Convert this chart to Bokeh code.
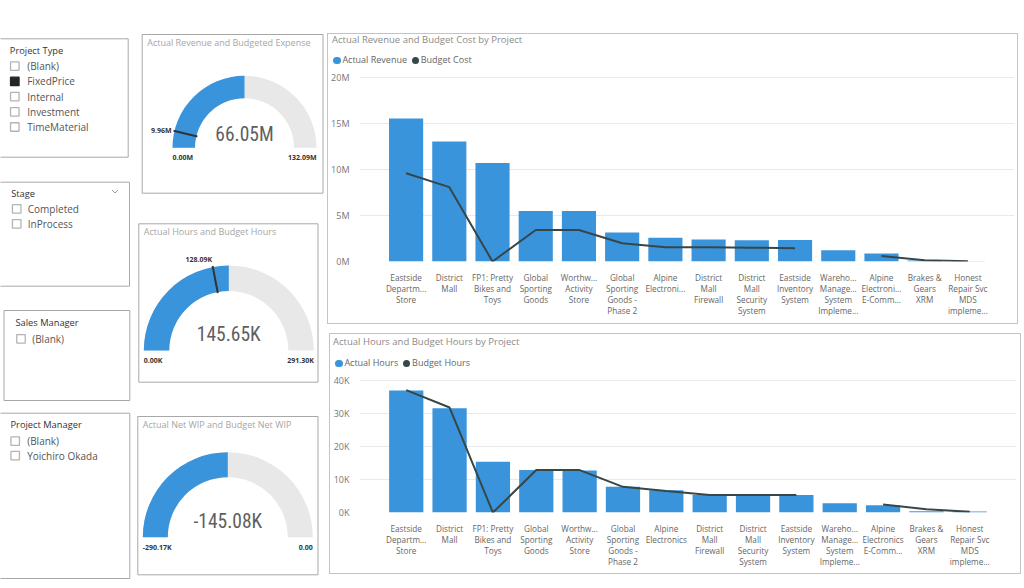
import math
from bokeh.plotting import figure
from bokeh.models import Range1d, FactorRange, FixedTicker, PrintfTickFormatter, Div
from bokeh.layouts import row, column
from bokeh.embed import file_html
from bokeh.resources import INLINE
from bokeh.core.properties import value

# ---------------- data ----------------
slicer_titles = ["Project Type", "Stage", "Sales Manager", "Project Manager"]
project_types = ["(Blank)", "FixedPrice", "Internal", "Investment", "TimeMaterial"]
project_type_selected = ["FixedPrice"]
stages = ["Completed", "InProcess"]
sales_managers = ["(Blank)"]
project_managers = ["(Blank)", "Yoichiro Okada"]

gauge_titles = ["Actual Revenue and Budgeted Expense",
                "Actual Hours and Budget Hours",
                "Actual Net WIP and Budget Net WIP"]
gauge_values = [66.05, 145.65, -145.08]
gauge_mins = [0.0, 0.0, -290.17]
gauge_maxs = [132.09, 291.30, 0.0]
gauge_targets = [9.96, 128.09, None]
gauge_value_text = ["66.05M", "145.65K", "-145.08K"]
gauge_min_text = ["0.00M", "0.00K", "-290.17K"]
gauge_max_text = ["132.09M", "291.30K", "0.00"]
gauge_target_text = ["9.96M", "128.09K", ""]

rev_projects = ["Eastside\nDepartm...\nStore", "District\nMall", "FP1: Pretty\nBikes and\nToys",
                "Global\nSporting\nGoods", "Worthw...\nActivity\nStore",
                "Global\nSporting\nGoods -\nPhase 2", "Alpine\nElectroni...",
                "District\nMall\nFirewall", "District\nMall\nSecurity\nSystem",
                "Eastside\nInventory\nSystem", "Wareho...\nManage...\nSystem\nImpleme...",
                "Alpine\nElectroni...\nE-Comm...", "Brakes &\nGears\nXRM",
                "Honest\nRepair Svc\nMDS\nimpleme..."]
actual_revenue_m = [15.54, 13.04, 10.72, 5.50, 5.50, 3.15, 2.57, 2.39, 2.32, 2.35, 1.23, 0.87, 0.10, 0.02]
budget_cost_m = [9.60, 8.08, 0.0, 3.43, 3.43, 1.99, 1.55, 1.55, 1.50, 1.45, float("nan"), 0.61, 0.14, 0.03]
rev_series = ["Actual Revenue", "Budget Cost"]

hours_projects = ["Eastside\nDepartm...\nStore", "District\nMall", "FP1: Pretty\nBikes and\nToys",
                  "Global\nSporting\nGoods", "Worthw...\nActivity\nStore",
                  "Global\nSporting\nGoods -\nPhase 2", "Alpine\nElectronics",
                  "District\nMall\nFirewall", "District\nMall\nSecurity\nSystem",
                  "Eastside\nInventory\nSystem", "Wareho...\nManage...\nSystem\nImpleme...",
                  "Alpine\nElectronics\nE-Comm...", "Brakes &\nGears\nXRM",
                  "Honest\nRepair Svc\nMDS\nimpleme..."]
actual_hours_k = [37.1, 31.7, 15.4, 12.9, 12.8, 7.8, 6.8, 5.3, 5.3, 5.3, 2.8, 2.2, 0.4, 0.3]
budget_hours_k = [37.2, 31.9, 0.0, 12.9, 12.9, 7.8, 6.5, 5.35, 5.35, 5.35, float("nan"), 2.4, 1.0, 0.2]
hours_series = ["Actual Hours", "Budget Hours"]

# ---------------- style ----------------
FONT = "Open Sans"
VALUE_FONT = "'Roboto Condensed', 'Noto Sans Condensed', 'Liberation Sans Narrow', Roboto"
BLUE = "#3A94DB"
DARK = "#374649"
ARC_GRAY = "#E8E8E8"
BOX = "#a8a8a8"
CARD = "1px solid #c4c4c4"

# ---------------- left side: slicers + gauges (pixel-space canvas) ----------------
side = figure(width=327, height=580, x_range=Range1d(0, 327), y_range=Range1d(-580, 0),
              output_backend="svg", toolbar_location=None, min_border=0,
              x_axis_location=None, y_axis_location=None)
side.grid.visible = False
side.outline_line_color = None

slicer_items = [project_types, stages, sales_managers, project_managers]
slicer_layout = [  # box l, r, t, b ; title x, y ; check x ; text x ; first item y ; step
    dict(box=(-2, 127.7, 38.3, 156.7), title=(9.3, 49.7), cx=14.3, tx=26.7, y0=65.7, dy=15.2),
    dict(box=(-2, 129, 181.7, 285.7), title=(10.7, 193), cx=16.2, tx=27.3, y0=208.3, dy=15.0),
    dict(box=(3.5, 129.3, 310, 400), title=(15, 321.7), cx=20.5, tx=31.7, y0=338.3, dy=15.0),
    dict(box=(-2, 129.3, 412.7, 578), title=(10, 424), cx=14.7, tx=26.7, y0=440.7, dy=14.5),
]
for title, items, lay in zip(slicer_titles, slicer_items, slicer_layout):
    l, r, t, b = lay["box"]
    side.quad(left=[l], right=[r], top=[-t], bottom=[-b], fill_color=None, line_color=BOX, line_width=1)
    side.text(x=[lay["title"][0]], y=[-lay["title"][1]], text=[title], text_font=value(FONT),
              text_font_size="9.3px", text_color="#333333", text_baseline="middle")
    ys = [-(lay["y0"] + k * lay["dy"]) for k in range(len(items))]
    sel = [items is project_types and it in project_type_selected for it in items]
    side.rect(x=[lay["cx"]] * len(items), y=ys, width=8.5, height=8.5,
              fill_color=["#252525" if s else "white" for s in sel],
              line_color=["#252525" if s else "#b4b4b4" for s in sel], line_width=1.3)
    side.text(x=[lay["tx"]] * len(items), y=ys, text=items, text_font=value(FONT),
              text_font_size="10px", text_color="#555555", text_baseline="middle")
# Stage dropdown chevron
side.line(x=[111.5, 114.5, 117.5], y=[-189.5, -192.5, -189.5], line_color="#999999", line_width=1)

gauge_layout = [  # box l, r, t, b ; title x,y ; center ; R ; r ; value offset
    dict(box=(141.7, 322.5, 34, 192.7), title=(146.7, 41.7), c=(244, 147.3), R=72, r=49.5, off=13),
    dict(box=(138.3, 317.5, 223.3, 381.7), title=(143.3, 230.7), c=(228.3, 350), R=85, r=59.5, off=16.5),
    dict(box=(137.3, 317.5, 416, 574.3), title=(142.3, 424), c=(227.3, 536.7), R=85, r=60, off=16),
]
for i, lay in enumerate(gauge_layout):
    l, r, t, b = lay["box"]
    side.quad(left=[l], right=[r], top=[-t], bottom=[-b], fill_color=None, line_color=BOX, line_width=1)
    side.text(x=[lay["title"][0]], y=[-lay["title"][1]], text=[gauge_titles[i]], text_font=value(FONT),
              text_font_size="9px", text_color="#a6a6a6", text_baseline="middle")
    cx, cy = lay["c"]
    R, rr = lay["R"], lay["r"]
    span = gauge_maxs[i] - gauge_mins[i]
    frac = (gauge_values[i] - gauge_mins[i]) / span
    side.annular_wedge(x=[cx], y=[-cy], inner_radius=rr, outer_radius=R, start_angle=0,
                       end_angle=math.pi, fill_color=ARC_GRAY, line_color=None)
    side.annular_wedge(x=[cx], y=[-cy], inner_radius=rr, outer_radius=R,
                       start_angle=math.pi * (1 - frac), end_angle=math.pi,
                       fill_color=BLUE, line_color=None)
    if gauge_targets[i] is not None:
        a = math.pi * (1 - (gauge_targets[i] - gauge_mins[i]) / span)
        side.segment(x0=[cx + (rr - 1) * math.cos(a)], y0=[-cy + (rr - 1) * math.sin(a)],
                     x1=[cx + (R + 1) * math.cos(a)], y1=[-cy + (R + 1) * math.sin(a)],
                     line_color="#333333", line_width=2)
        side.text(x=[cx + (R + 3) * math.cos(a)], y=[-cy + (R + 3) * math.sin(a)],
                  text=[gauge_target_text[i]], text_font=value(FONT), text_font_size="7px",
                  text_font_style="bold", text_color="#333333", text_align="right",
                  text_baseline="middle" if a > 3 * math.pi / 4 else "bottom")
    side.text(x=[cx - R], y=[-(cy + 10)], text=[gauge_min_text[i]], text_font=value(FONT),
              text_font_size="7px", text_font_style="bold", text_color="#333333",
              text_align="left", text_baseline="middle")
    side.text(x=[cx + R], y=[-(cy + 10)], text=[gauge_max_text[i]], text_font=value(FONT),
              text_font_size="7px", text_font_style="bold", text_color="#333333",
              text_align="right", text_baseline="middle")
    side.text(x=[cx], y=[-(cy - lay["off"])], text=[gauge_value_text[i]],
              text_font=value(VALUE_FONT),
              text_font_size="19.5px", text_color="#5f5f5f", text_align="center", text_baseline="middle")


# ---------------- right side: bar + line chart cards ----------------
def header_html(w, h, title, title_left, title_y, leg_left, leg_y, names, colors):
    items = "".join(
        f'<span style="display:inline-block;width:7.5px;height:7.5px;border-radius:50%;'
        f'background:{c};margin:0 1.6px 0 {m}px"></span><span>{n}</span>'
        for n, c, m in zip(names, colors, [0, 4.7]))
    return (f'<div style="display:block;position:relative;width:{w}px;height:{h}px;'
            f'font-family:\'{FONT}\';">'
            f'<div style="position:absolute;left:{title_left}px;top:{title_y - 6}px;line-height:12px;'
            f'font-size:9.5px;color:#8a8a8a;white-space:nowrap">{title}</div>'
            f'<div style="position:absolute;left:{leg_left}px;top:{leg_y - 6}px;height:12px;'
            f'line-height:12px;font-size:9px;color:#666666;display:flex;align-items:center;'
            f'white-space:nowrap">{items}</div></div>')


def make_card(title, cats, bars, line, names, unit, ticks, px_per_unit,
              w, head_h, chart_h, bl, br, bb, title_pos, legend_pos, margin):
    head = Div(text=header_html(w, head_h, title, title_pos[0], title_pos[1],
                                legend_pos[0], legend_pos[1], names, [BLUE, DARK]),
               width=w, height=head_h, margin=0)

    ymax = (chart_h - 1 - bb) / px_per_unit
    p = figure(width=w, height=chart_h,
               x_range=FactorRange(*cats, range_padding=0.578, range_padding_units="absolute"),
               y_range=Range1d(0, ymax), output_backend="svg", toolbar_location=None,
               min_border_left=bl, min_border_right=br, min_border_top=1, min_border_bottom=bb)
    p.outline_line_color = None
    p.xgrid.visible = False
    p.ygrid.grid_line_color = "#e9e9e9"
    p.yaxis.ticker = FixedTicker(ticks=ticks)
    p.yaxis.formatter = PrintfTickFormatter(format="%d" + unit)
    for ax in (p.xaxis[0], p.yaxis[0]):
        ax.axis_line_color = None
        ax.major_tick_line_color = None
        ax.minor_tick_line_color = None
        ax.major_tick_out = 0
        ax.major_tick_in = 0
        ax.major_label_text_font = FONT
    p.yaxis.major_label_text_font_size = "9px"
    p.yaxis.major_label_text_color = "#777777"
    p.yaxis.major_label_standoff = 10
    p.xaxis.major_label_text_font_size = "8.2px"
    p.xaxis.major_label_text_color = "#666666"
    p.xaxis.major_label_standoff = 10
    p.xaxis.major_label_text_line_height = 1.0
    p.xaxis.major_label_orientation = "horizontal"

    p.vbar(x=cats, top=bars, width=0.79, fill_color=BLUE, line_color=None, legend_label=names[0])
    p.line(x=cats, y=line, line_color=DARK, line_width=2, legend_label=names[1])
    p.legend.visible = False

    return column(head, p, spacing=0, styles={"border": CARD}, margin=margin)


c1 = make_card("Actual Revenue and Budget Cost by Project", rev_projects, actual_revenue_m,
               budget_cost_m, rev_series, "M", [0, 5, 10, 15, 20], 9.2,
               689, 36, 253, 30, 3, 62, (4, 5.5), (5.3, 26.3), (33, 0, 0, 0))
c2 = make_card("Actual Hours and Budget Hours by Project", hours_projects, actual_hours_k,
               budget_hours_k, hours_series, "K", [0, 10, 20, 30, 40], 3.29,
               690, 36, 203, 28, 4, 61, (3, 7.7), (5.3, 29.3), (9, 0, 0, 2))

layout = row(side, column(c1, c2, spacing=0), spacing=0)
open("out.html", "w").write(file_html(layout, INLINE))
